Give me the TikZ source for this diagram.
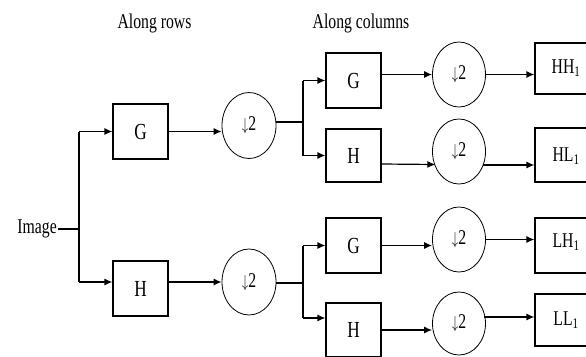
\documentclass[tikz,border=0pt]{standalone}
\usepackage{fontspec}
\setmainfont{Liberation Serif}
\usetikzlibrary{arrows.meta,calc,shapes.geometric}
\newcommand{\nar}[1]{\scalebox{0.75}[1]{#1}}
\newcommand{\dsl}{\nar{{\fontsize{16}{16}\selectfont$\downarrow$}2}}
\begin{document}
\begin{tikzpicture}[x=1pt,y=-1pt,
  box/.style={draw, line width=1.2pt, minimum width=55pt, minimum height=55pt, inner sep=0pt, font=\fontsize{23}{23}\selectfont},
  outbox/.style={draw, line width=1.2pt, minimum width=72pt, minimum height=52pt, inner sep=0pt, font=\fontsize{21}{21}\selectfont},
  ds/.style={draw, ellipse, line width=0.8pt, minimum width=53pt, minimum height=65pt, inner sep=0pt, font=\fontsize{21}{21}\selectfont},
  arr/.style={line width=1.2pt, -{Latex[length=8pt,width=7pt]}},
  ln/.style={line width=1.2pt},
  lab/.style={font=\fontsize{21}{21}\selectfont, inner sep=0pt}]
\useasboundingbox (0,0) rectangle (586,356);
\clip (0,0) rectangle (586,356);

% labels
\node[lab] (rows) at (154.5,23) {\nar{Along rows}};
\node[lab] (cols) at (361,23) {\nar{Along columns}};
\node[lab, anchor=east] (img) at (57,229) {\nar{Image}};

% stage 1
\node[box] (G1) at (140.5,131.5) {\nar{G}};
\node[box] (H1) at (140.5,288.5) {\nar{H}};
\node[ds, minimum width=54pt, minimum height=66pt] (C1) at (249,125.5) {\dsl};
\node[ds, minimum width=54pt, minimum height=66pt] (C2) at (249,282) {\dsl};

% stage 2
\node[box] (G2) at (353.5,80.5) {\nar{G}};
\node[box, minimum height=53pt] (H2) at (353.5,155.5) {\nar{H}};
\node[box] (G3) at (353.5,245.5) {\nar{G}};
\node[box, minimum height=54pt] (H3) at (353.5,330) {\nar{H}};

\node[ds] (C3) at (459,74.5) {\dsl};
\node[ds] (C4) at (459,151.5) {\dsl};
\node[ds] (C5) at (459,239.5) {\dsl};
\node[ds, minimum height=63pt] (C6) at (459,323.5) {\dsl};

% outputs (right edge lies outside the picture)
\node[outbox, minimum height=51pt] (HH) at (571,68.5) {};
\node[outbox, minimum height=54pt] (HL) at (571,155) {};
\node[outbox, minimum height=55pt] (LH) at (571,245.5) {};
\node[outbox] (LL) at (571,320) {};
\node[lab] (HHt) at (566,68.5) {\nar{HH\textsubscript{1}}};
\node[lab] (HLt) at (566,156) {\nar{HL\textsubscript{1}}};
\node[lab] (LHt) at (566,242) {\nar{LH\textsubscript{1}}};
\node[lab] (LLt) at (566,320) {\nar{LL\textsubscript{1}}};

% junctions
\coordinate (j1) at (79,229);
\coordinate (j2) at (303,122);
\coordinate (j3) at (303,283);

% stage 1 connectors
\draw[ln] (img.east) ++(1,0) -- (j1);
\coordinate (h1in) at ($(H1.west)+(0,-6.5)$);
\draw[ln] (j1 |- G1.west) -- (j1 |- h1in);
\draw[arr] (j1 |- G1.west) -- (G1.west);
\draw[arr] (j1 |- h1in) -- (h1in);
\draw[arr] (G1.east) -- (G1.east -| C1.west);
\draw[arr] (H1.east |- C2.west) -- (C2.west);
\draw[ln] (C1.east |- j2) -- (j2);
\draw[ln] (C2.east |- j3) -- (j3);

% stage 2 top
\draw[ln] (j2 |- G2.west) -- (j2 |- H2.west);
\draw[arr] (j2 |- G2.west) -- (G2.west);
\draw[arr] (j2 |- H2.west) -- (H2.west);
\draw[arr] (G2.east |- C3.west) -- (C3.west);
\coordinate (h2out) at ($(H2.east)+(0,8.5)$);
\draw[arr] (h2out) -- ($(C4.center)+(-23.6,13)$);
\draw[arr] (C3.east) -- (C3.east -| HH.west);
\coordinate (c4out) at ($(C4.center)+(23.6,13.5)$);
\draw[arr] (c4out) -- (c4out -| HL.west);

% stage 2 bottom
\coordinate (h3in) at ($(H3.west)+(0,-12)$);
\draw[ln] (j3 |- G3.west) -- (j3 |- h3in);
\draw[arr] (j3 |- G3.west) -- (G3.west);
\draw[arr] (j3 |- h3in) -- (h3in);
\draw[arr] (G3.east) -- (G3.east -| C5.west);
\draw[arr] (H3.east) -- (H3.east -| C6.west);
\draw[arr] (C5.east) -- (C5.east -| LH.west);
\coordinate (c6out) at ($(C6.center)+(25.4,-6.5)$);
\draw[arr] (c6out) -- (c6out -| LL.west);
\end{tikzpicture}
\end{document}
